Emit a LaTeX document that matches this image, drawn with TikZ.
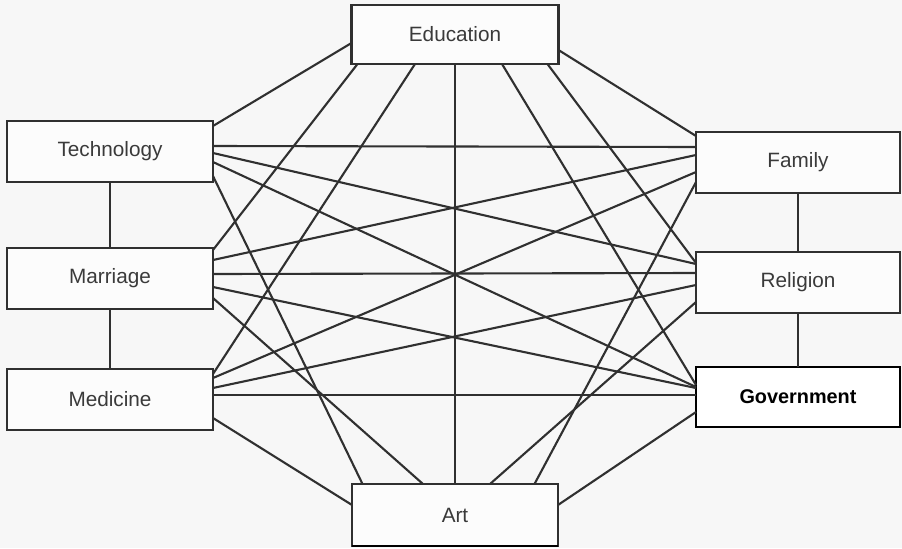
\documentclass[tikz,border=0pt]{standalone}
\usepackage{fontspec}
\setmainfont{Liberation Sans}
\usetikzlibrary{calc}
\definecolor{bg}{HTML}{F7F7F7}
\definecolor{ink}{HTML}{303030}
\definecolor{txt}{HTML}{3A3A3A}
\begin{document}
\begin{tikzpicture}[x=0.02cm,y=-0.02cm,
  box/.style={draw=ink, line width=1.3pt, fill=white!60!bg, minimum width=4.12cm, minimum height=1.22cm,
    inner sep=0pt, outer sep=0pt, text=txt, font=\fontsize{11.8}{14}\selectfont},
  govbox/.style={box, draw=black, fill=white, text=black, font=\fontsize{11.3}{14}\selectfont\bfseries},
  link/.style={draw=ink, line width=1.2pt}]
\fill[bg] (0,0) rectangle (902,548);
\useasboundingbox (0,0) rectangle (902,548);
% nodes
\node[box, minimum width=4.14cm, minimum height=1.18cm] (E) at (455,34.5) {Education};
\node[box] (T) at (110,151.5) {Technology};
\node[box] (Ma) at (110,278.5) {Marriage};
\node[box] (Me) at (110,399.5) {Medicine};
\node[box, minimum width=4.08cm] (F) at (798,162.5) {Family};
\node[box, minimum width=4.08cm] (R) at (798,282.5) {Religion};
\node[govbox, minimum width=4.08cm, minimum height=1.2cm] (G) at (798,397) {Government};
\node[box, minimum height=1.24cm] (A) at (455,515) {Art};
\draw[black, line width=1.6pt] (A.south west) -- (A.south east);
% vertical links
\draw[link] (T.south) -- (Ma.north);
\draw[link] (Ma.south) -- (Me.north);
\draw[link] (F.south) -- (R.north);
\draw[link] (R.south) -- (G.north);
% Technology
\draw[link] ([shift={(0,5)}]T.north east) -- ([shift={(0,8.5)}]E.west);
\draw[link] ([shift={(0,-5.5)}]T.east) -- ([shift={(0,-15.5)}]F.west);
\draw[link] ([shift={(0,1.5)}]T.east) -- ([shift={(0,-18.5)}]R.west);
\draw[link] ([shift={(0,10.5)}]T.east) -- ([shift={(0,-10)}]G.west);
\draw[link] ([shift={(0,-6)}]T.south east) -- ([shift={(10.5,0)}]A.north west);
% Marriage
\draw[link] ([shift={(0,2)}]Ma.north east) -- ([shift={(6,0)}]E.south west);
\draw[link] ([shift={(0,-18.5)}]Ma.east) -- ([shift={(0,-7.5)}]F.west);
\draw[link] ([shift={(0,-4.5)}]Ma.east) -- ([shift={(0,-9.5)}]R.west);
\draw[link] ([shift={(0,8.5)}]Ma.east) -- ([shift={(0,-9)}]G.west);
\draw[link] ([shift={(0,19.5)}]Ma.east) -- ([shift={(-32,0)}]A.north);
% Medicine
\draw[link] ([shift={(0,5)}]Me.north east) -- ([shift={(-40,0)}]E.south);
\draw[link] ([shift={(0,9)}]Me.north east) -- ([shift={(0,9.5)}]F.west);
\draw[link] ([shift={(0,-11.5)}]Me.east) -- ([shift={(0,2.5)}]R.west);
\draw[link] ([shift={(0,-4.5)}]Me.east) -- ([shift={(0,-2)}]G.west);
\draw[link] ([shift={(0,18.5)}]Me.east) -- ([shift={(0,-10)}]A.west);
% Education
\draw[link] (E.south) -- (A.north);
\draw[link] ([shift={(0,15.5)}]E.east) -- ([shift={(0,4)}]F.north west);
\draw[link] ([shift={(-11,0)}]E.south east) -- ([shift={(0,-19.5)}]R.west);
\draw[link] ([shift={(47,0)}]E.south) -- ([shift={(0,-12)}]G.west);
% Art
\draw[link] ([shift={(-23.5,0)}]A.north east) -- ([shift={(0,19.5)}]F.west);
\draw[link] ([shift={(35,0)}]A.north) -- ([shift={(0,19.5)}]R.west);
\draw[link] ([shift={(0,-10)}]A.east) -- ([shift={(0,15)}]G.west);
\end{tikzpicture}
\end{document}
